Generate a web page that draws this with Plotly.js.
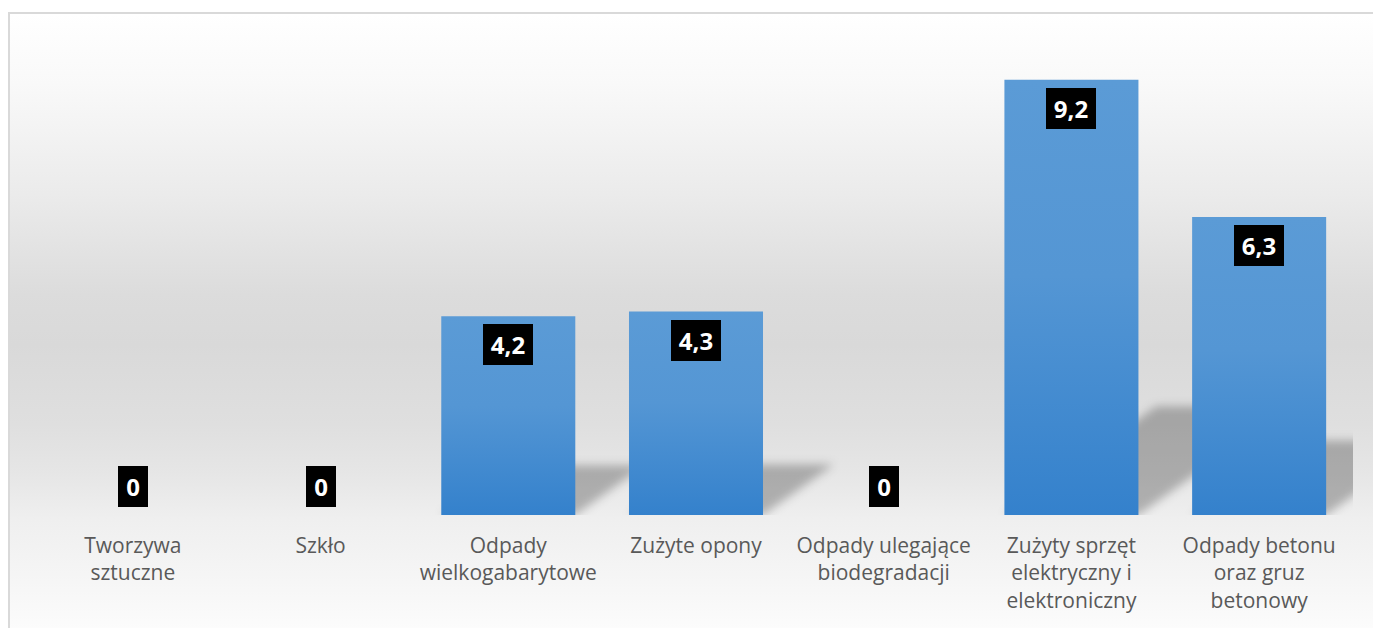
<!DOCTYPE html>
<html>
<head>
<meta charset="utf-8">
<script src="https://cdn.plot.ly/plotly-3.0.1.min.js"></script>
<style>
  html, body { margin: 0; padding: 0; width: 1373px; height: 628px; overflow: hidden; background: #ffffff; }
  #frame {
    position: absolute; left: 8px; top: 12px; width: 1400px; height: 640px;
    border: 2px solid #d9d9d9; box-sizing: border-box;
    background: linear-gradient(to bottom,
      #ffffff 0px, #f9f9f9 70px, #ebebeb 180px, #dcdcdc 280px, #d9d9d9 330px,
      #dfdfdf 410px, #e6e6e6 460px, #efefef 505px, #f5f5f5 560px, #fcfcfc 616px);
  }
  #chart { position: absolute; left: 0; top: 0; width: 1373px; height: 628px; }
</style>
</head>
<body>
<svg width="0" height="0" style="position:absolute">
  <defs>
    <linearGradient id="barGrad" x1="0" y1="0" x2="0" y2="1">
      <stop offset="0" stop-color="#5b9bd6"/>
      <stop offset="0.45" stop-color="#5496d4"/>
      <stop offset="1" stop-color="#3481cc"/>
    </linearGradient>
    <filter id="blurShadow" x="-50%" y="-50%" width="200%" height="200%">
      <feGaussianBlur stdDeviation="5"/>
    </filter>
  </defs>
</svg>
<div id="frame"></div>
<div id="chart"></div>
<script>
const categories = [
  'Tworzywa sztuczne',
  'Szkło',
  'Odpady wielkogabarytowe',
  'Zużyte opony',
  'Odpady ulegające biodegradacji',
  'Zużyty sprzęt elektryczny i elektroniczny',
  'Odpady betonu oraz gruz betonowy'
];
const tickLabels = [
  'Tworzywa<br>sztuczne',
  'Szkło',
  'Odpady<br>wielkogabarytowe',
  'Zużyte opony',
  'Odpady ulegające<br>biodegradacji',
  'Zużyty sprzęt<br>elektryczny i<br>elektroniczny',
  'Odpady betonu<br>oraz gruz<br>betonowy'
];
const values = [0, 0, 4.2, 4.3, 0, 9.2, 6.3];
const valueLabels = ['0', '0', '4,2', '4,3', '0', '9,2', '6,3'];

const halfBar = 0.357;

const trace = {
  type: 'bar',
  x: categories,
  y: values,
  marker: { color: '#4a8ed2', line: { width: 0 } },
  hoverinfo: 'none'
};

const annotations = values.map((v, i) => ({
  x: categories[i],
  y: v,
  xref: 'x', yref: 'y',
  text: valueLabels[i],
  showarrow: false,
  yanchor: v > 0 ? 'top' : 'bottom',
  yshift: v > 0 ? -8 : 8,
  bgcolor: '#000000',
  borderwidth: 0,
  borderpad: 0,
  width: valueLabels[i].length > 1 ? 50 : 30,
  height: 41,
  font: { family: 'Open Sans', size: 24, color: '#ffffff', weight: 700 }
}));

const shapes = values.map((v, i) => {
  if (v <= 0) return null;
  const h = 0.25 * v;
  const s = 0.088 * v;
  return {
    type: 'path',
    xref: 'x', yref: 'y',
    layer: 'below',
    path: `M ${i - halfBar},0 L ${i + halfBar},0 L ${i + halfBar + s},${h} L ${i - halfBar + s},${h} Z`,
    fillcolor: 'rgba(0,0,0,0.26)',
    line: { width: 0 }
  };
}).filter(Boolean);

const layout = {
  width: 1373,
  height: 628,
  margin: { l: 39, r: 20, t: 42, b: 113 },
  paper_bgcolor: 'rgba(0,0,0,0)',
  plot_bgcolor: 'rgba(0,0,0,0)',
  bargap: 0.286,
  showlegend: false,
  xaxis: {
    type: 'category',
    range: [-0.5, 6.5],
    autorange: false,
    tickvals: categories,
    ticktext: tickLabels,
    showgrid: false,
    zeroline: false,
    showline: false,
    ticks: '',
    tickfont: { family: 'Open Sans', size: 21, color: '#595959' },
    ticklabelstandoff: 16,
    fixedrange: true
  },
  yaxis: {
    range: [0, 10],
    autorange: false,
    visible: false,
    showgrid: false,
    zeroline: false,
    fixedrange: true
  },
  annotations: annotations,
  shapes: shapes
};

function decorate() {
  document.querySelectorAll('#chart .barlayer .point path').forEach(p => {
    p.style.fill = 'url(#barGrad)';
  });
  document.querySelectorAll('#chart .shapelayer path').forEach(p => {
    p.setAttribute('filter', 'url(#blurShadow)');
  });
}

Plotly.newPlot('chart', [trace], layout, { displayModeBar: false, staticPlot: true }).then(gd => {
  decorate();
  gd.on('plotly_afterplot', decorate);
});
</script>
</body>
</html>
